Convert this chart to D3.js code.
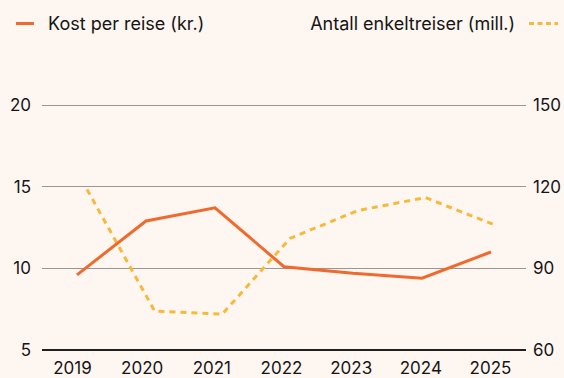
<!DOCTYPE html>
<html>
<head>
<meta charset="utf-8">
<script src="https://cdn.jsdelivr.net/npm/d3@7"></script>
<style>
  html, body { margin: 0; padding: 0; background: #fdf6f1; }
  svg { display: block; font-family: Inter, "Noto Sans", sans-serif; }
</style>
</head>
<body>
<svg id="chart" width="564" height="378"></svg>
<script>
// Years on the horizontal axis
const years = ["2019", "2020", "2021", "2022", "2023", "2024", "2025"];
// Cost per trip, kroner (left axis)
const costPerTrip = [9.6, 12.9, 13.7, 10.1, 9.7, 9.4, 11.0];
// Single trips, millions (right axis)
const singleTrips = [119, 74.3, 73.2, 101, 111.2, 116, 106.2];
// Axis ticks
const leftTicks = [5, 10, 15, 20];
const rightTicks = [60, 90, 120, 150];

const orange = "#ef6a2e";
const yellow = "#f6b93b";
const ink = "#161414";

const svg = d3.select("#chart");
const plotLeft = 42, plotRight = 526, plotTop = 105, plotBottom = 350;

const yLeft = d3.scaleLinear().domain([5, 20]).range([plotBottom, plotTop]);
const yRight = d3.scaleLinear().domain([60, 150]).range([plotBottom, plotTop]);
const xCost = d3.scalePoint().domain(years).range([77, 491]);
const xTrips = d3.scalePoint().domain(years).range([87, 493]);
const xLabels = d3.scalePoint().domain(years).range([72, 490]);

// Gridlines (the baseline at 5 is drawn separately, darker)
svg.append("g")
  .selectAll("line")
  .data(leftTicks.filter(d => d !== 5))
  .join("line")
  .attr("x1", plotLeft).attr("x2", plotRight)
  .attr("y1", d => yLeft(d)).attr("y2", d => yLeft(d))
  .attr("stroke", "#9a9693").attr("stroke-width", 1)
  .attr("shape-rendering", "crispEdges");

svg.append("line")
  .attr("x1", plotLeft).attr("x2", plotRight)
  .attr("y1", yLeft(5)).attr("y2", yLeft(5))
  .attr("stroke", "#231f1e").attr("stroke-width", 2);

// Left axis labels
svg.append("g")
  .selectAll("text")
  .data(leftTicks)
  .join("text")
  .attr("x", 31)
  .attr("y", d => yLeft(d))
  .attr("dy", "0.36em")
  .attr("text-anchor", "end")
  .attr("font-size", 17)
  .attr("fill", ink)
  .text(d => d);

// Right axis labels
svg.append("g")
  .selectAll("text")
  .data(rightTicks)
  .join("text")
  .attr("x", 533)
  .attr("y", d => yRight(d))
  .attr("dy", "0.36em")
  .attr("text-anchor", "start")
  .attr("font-size", 17)
  .attr("fill", ink)
  .text(d => d);

// Bottom axis labels
const xAxis = d3.axisBottom(xLabels).tickSize(0).tickPadding(0);
const gx = svg.append("g")
  .attr("transform", `translate(0, ${plotBottom + 12})`)
  .call(xAxis);
gx.select(".domain").remove();
gx.selectAll("text")
  .attr("font-size", 17)
  .attr("font-family", "Inter, 'Noto Sans', sans-serif")
  .attr("fill", ink);

// Single trips, dashed
svg.append("path")
  .datum(singleTrips)
  .attr("fill", "none")
  .attr("stroke", yellow)
  .attr("stroke-width", 3)
  .attr("stroke-dasharray", "6,5")
  .attr("d", d3.line().x((d, i) => xTrips(years[i])).y(d => yRight(d)));

// Cost per trip, solid
svg.append("path")
  .datum(costPerTrip)
  .attr("fill", "none")
  .attr("stroke", orange)
  .attr("stroke-width", 3)
  .attr("d", d3.line().x((d, i) => xCost(years[i])).y(d => yLeft(d)));

// Legend
const legend = svg.append("g");
legend.append("line")
  .attr("x1", 16).attr("x2", 34).attr("y1", 23.5).attr("y2", 23.5)
  .attr("stroke", orange).attr("stroke-width", 3);
legend.append("text")
  .attr("x", 48).attr("y", 23.5).attr("dy", "0.36em")
  .attr("font-size", 18).attr("fill", ink)
  .text("Kost per reise (kr.)");
legend.append("text")
  .attr("x", 515).attr("y", 23.5).attr("dy", "0.36em")
  .attr("text-anchor", "end")
  .attr("font-size", 18).attr("fill", ink)
  .text("Antall enkeltreiser (mill.)");
legend.append("line")
  .attr("x1", 529).attr("x2", 558).attr("y1", 23.5).attr("y2", 23.5)
  .attr("stroke", yellow).attr("stroke-width", 3)
  .attr("stroke-dasharray", "5,3.5");
</script>
</body>
</html>
